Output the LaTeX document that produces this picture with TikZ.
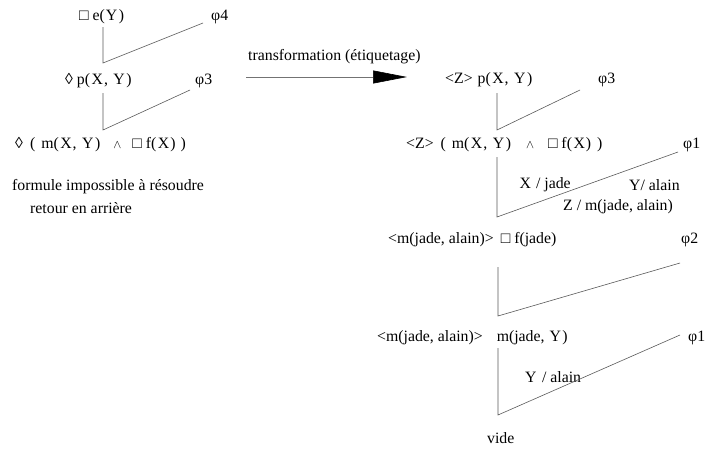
\documentclass[tikz,border=0pt]{standalone}
\usepackage{fontspec}
\setmainfont{Liberation Serif}
\usepackage{tikz}
\usetikzlibrary{
    positioning,
    arrows.meta,
    calc,
}
\tikzset{
    % Text styles
    formula/.style={anchor=west, inner sep=0pt, font=\fontsize{15.8}{18}\selectfont},
    subst/.style={formula},
    % Line styles
    tree/.style={draw=black!65, line width=0.6pt},
    arrow/.style={-{Triangle[length=34pt, width=13pt, color=black]}, line width=0.6pt, draw=black!55},
}
\newcommand{\et}{{\fontsize{13}{15}\selectfont$\wedge$}}
\newcommand{\vX}{\kern1.5pt X\kern1pt}
\newcommand{\vY}{\kern1pt Y\kern1.5pt}
\newcommand{\xy}{\vX,\hspace{4.5pt}\vY}

\begin{document}
\begin{tikzpicture}[x=1pt, y=-1pt]
    \useasboundingbox (0,0) rectangle (710,450);

    % Left tree
    \node[formula] (e) at (79,17) {□ e(\vY)};
    \node[formula] (phi4) at (211,17) {φ4};
    \node[formula] (p) at (65,81) {◊ p(\xy)};
    \node[formula] (phi3) at (195,81) {φ3};
    \node[formula] (mf) at (15,145) {◊\hspace{7pt}(\hspace{6pt}m(\xy)\hspace{13pt}\et\hspace{11pt}□ f(\vX)\hspace{5pt})};
    \node[formula] (note1) at (12,187) {formule impossible à résoudre};
    \node[formula] (note2) at (30,208) {retour en arrière};

    \coordinate (t1) at (103,27);
    \coordinate (k1) at (103,63);
    \coordinate (d1) at (203,23);
    \coordinate (t2) at (103,93);
    \coordinate (k2) at (103,130);
    \coordinate (d2) at (190,90);
    \draw[tree] (t1) -- (k1) -- (d1);
    \draw[tree] (t2) -- (k2) -- (d2);

    % Arrow
    \coordinate (a1) at (246,77);
    \coordinate (a2) at (407,77);
    \draw[arrow] (a1) -- (a2);
    \node[formula] (trans) at (248,57) {transformation (étiquetage)};

    % Right tree
    \node[formula] (rp) at (445,80) {<Z>\hspace{5pt}p(\xy)};
    \node[formula] (rphi3) at (598,80) {φ3};
    \node[formula] (rmf) at (406,145) {<Z>\hspace{7pt}(\hspace{6pt}m(\xy)\hspace{15pt}\et\hspace{14pt}□ f(\vX)\hspace{6pt})};
    \node[formula] (rphi1) at (683,145) {φ1};
    \node[subst] (sx) at (518,185) {\vX{} / jade};
    \node[subst] (sy) at (628,185) {\kern1pt Y/ alain};
    \node[subst] (sz) at (563,207) {Z / m(jade, alain)};
    \node[formula] (rf) at (388,240) {<m(jade, alain)>\hspace{7pt}□ f(jade)};
    \node[formula] (rphi2) at (681,240) {φ2};
    \node[formula] (rm) at (377,338) {<m(jade, alain)>\hspace{14pt}m(jade, \vY)};
    \node[formula] (rphi1b) at (688,338) {φ1};
    \node[subst] (sy2) at (524,377) {\vY{} / alain};
    \node[formula] (vide) at (487,438) {vide};

    \coordinate (t3) at (497,93);
    \coordinate (k3) at (497,130);
    \coordinate (d3) at (580,90);
    \coordinate (t4) at (497,157);
    \coordinate (k4) at (497,217);
    \coordinate (d4) at (678,152);
    \coordinate (t5) at (498,267);
    \coordinate (k5) at (498,316);
    \coordinate (d5) at (680,263);
    \coordinate (t6) at (498,348);
    \coordinate (k6) at (498,415);
    \coordinate (d6) at (680,335);
    \draw[tree] (t3) -- (k3) -- (d3);
    \draw[tree] (t4) -- (k4) -- (d4);
    \draw[tree] (t5) -- (k5) -- (d5);
    \draw[tree] (t6) -- (k6) -- (d6);
\end{tikzpicture}
\end{document}
